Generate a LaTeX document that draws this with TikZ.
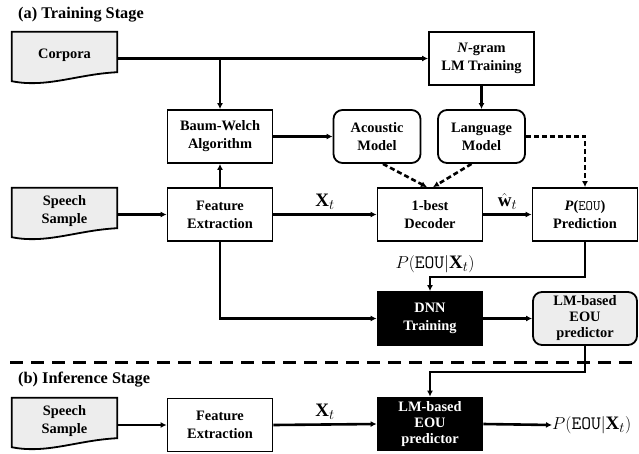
\documentclass[tikz,border=0pt]{standalone}
\usepackage{amsmath}
\usepackage{fontspec}
\setmainfont{Liberation Serif}
\usetikzlibrary{arrows.meta,backgrounds}

\definecolor{docgray}{gray}{0.93}
\newcommand{\blockfont}{\bfseries\fontsize{14.4}{18}\selectfont}
\newcommand{\mathlabel}{\fontsize{19}{22}\selectfont}

\tikzset{
    block/.style={draw, line width=1.8pt, minimum width=105pt, minimum height=53pt,
        inner sep=1pt, align=center, font=\blockfont},
    model/.style={block, rounded corners=9pt, minimum width=87pt},
    dark/.style={block, fill=black, text=white},
    three/.style={font=\bfseries\fontsize{14.4}{16}\selectfont},
    doc/.style={minimum width=105pt, minimum height=46pt, inner sep=1pt,
        align=center, font=\blockfont},
    title/.style={anchor=west, inner sep=0pt, font=\bfseries\fontsize{16.3}{19}\selectfont},
    link/.style={line width=2.6pt, ->},
    dlink/.style={line width=2.6pt, ->, dash pattern=on 5pt off 3pt},
    mlabel/.style={above, inner sep=4pt, font=\mathlabel},
}

\begin{document}
\begin{tikzpicture}[x=1pt, y=-1pt, >={Latex[length=6pt,width=6pt]}]
    \useasboundingbox (0,0) rectangle (639,453);

    % Stage titles
    \node[title] (titleA) at (18,15) {(a) Training Stage};
    \node[title] (titleB) at (18,380) {(b) Inference Stage};

    % Training stage blocks
    \node[doc] (corpora) at (64.5,55) {Corpora};
    \node[block] (ngram) at (481.5,58.5) {\textit{N}-gram\\LM Training};
    \node[block] (baum) at (220,136.5) {Baum-Welch\\Algorithm};
    \node[model] (acoustic) at (377,136.5) {Acoustic\\Model};
    \node[model] (langm) at (481.5,136.5) {Language\\Model};
    \node[doc] (speechA) at (64.5,211) {Speech\\Sample};
    \node[block] (featA) at (220,214.5) {Feature\\Extraction};
    \node[block] (decoder) at (430,214.5) {1-best\\Decoder};
    \node[block] (peou) at (585,214.5)
        {\textit{P}(\textmd{\ttfamily EOU})\\Prediction};
    \node[dark] (dnn) at (430,318.5) {DNN\\Training};
    \node[block, three, rounded corners=9pt, fill=docgray, minimum width=104pt] (predA)
        at (585,318.5) {LM-based\\EOU\\predictor};

    % Inference stage blocks
    \node[doc] (speechB) at (64.5,421) {Speech\\Sample};
    \node[block] (featB) at (220,425) {Feature\\Extraction};
    \node[dark, three] (predB) at (430,424) {LM-based\\EOU\\predictor};
    \node[anchor=west, inner sep=0pt, font=\mathlabel] (out) at (552,425)
        {$P(\mathtt{EOU}|\mathbf{X}_t)$};

    % Document shapes
    \begin{scope}[on background layer]
        \foreach \n in {corpora,speechA,speechB}
            \draw[line width=1.8pt, fill=docgray] (\n.north west) -- (\n.north east)
                -- ([yshift=6pt]\n.south east)
                .. controls ([xshift=-40pt,yshift=4pt]\n.south east)
                and ([xshift=35pt,yshift=-10pt]\n.south west)
                .. ([yshift=-3pt]\n.south west) -- cycle;
    \end{scope}

    % Training stage connectors
    \draw[link] (corpora.east |- ngram.west) -- (ngram.west);
    \draw[link] (baum.north |- ngram.west) -- (baum.north);
    \draw[link] (ngram.south) -- (langm.north);
    \draw[link] (baum.east) -- (acoustic.west);
    \draw[link] (featA.north) -- (baum.south);
    \draw[link] (speechA.east |- featA.west) -- (featA.west);
    \draw[link] (featA.east) -- node[mlabel] {$\mathbf{X}_t$} (decoder.west);
    \draw[link] (decoder.east) -- node[mlabel] {$\hat{\mathbf{w}}_t$} (peou.west);
    \draw[dlink] ([xshift=6pt]acoustic.south) -- ([xshift=-3pt]decoder.north);
    \draw[dlink] ([xshift=-10pt]langm.south) -- ([xshift=3pt]decoder.north);
    \draw[dlink] (langm.east) -| (peou.north);
    \draw[link] (peou.south) -- (peou.south |- 0,277) -| (dnn.north);
    \node[font=\mathlabel] (peoulabel) at (435,264) {$P(\mathtt{EOU}|\mathbf{X}_t)$};
    \draw[link] (featA.south) |- (dnn.west);
    \draw[link] (dnn.east) -- (predA.west);

    % Stage separator
    \draw[line width=3pt, dash pattern=on 13pt off 8pt] (10,362) -- (639,362);

    % Inference stage connectors
    \draw[link] (predA.south) -- (predA.south |- 0,372) -| (predB.north);
    \draw[link] (speechB.east |- featB.west) -- (featB.west);
    \draw[link] (featB.east) -- node[mlabel] {$\mathbf{X}_t$} (predB.west);
    \draw[link] (predB.east) -- (out.west);
\end{tikzpicture}
\end{document}
